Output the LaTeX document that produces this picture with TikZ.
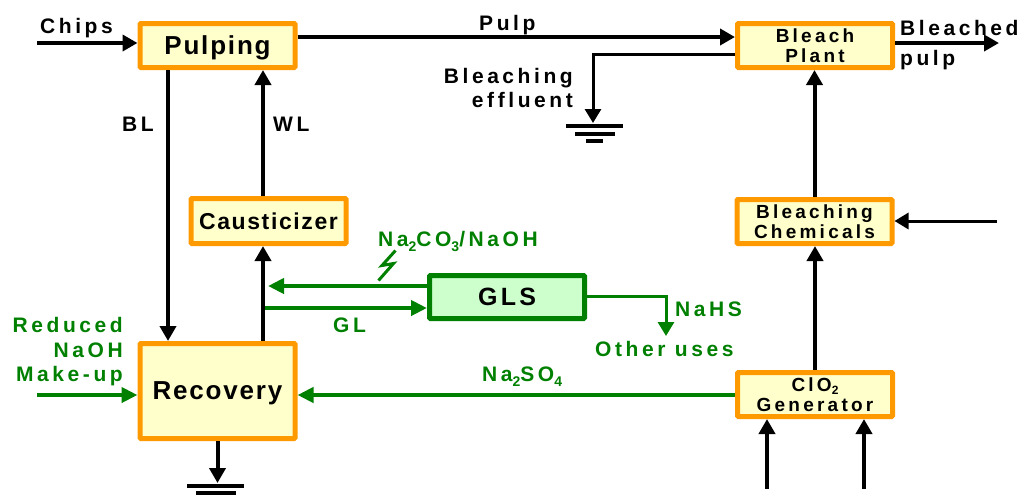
\documentclass[tikz,border=0pt]{standalone}
\usepackage{fontspec}
\setmainfont{Liberation Sans}
\newfontfamily\labfont{Liberation Sans}[LetterSpace=17]
\newfontfamily\bigfont{Liberation Sans}[LetterSpace=7]
\newfontfamily\glsfont{Liberation Sans}[LetterSpace=13]
\usetikzlibrary{arrows.meta}
\definecolor{orng}{HTML}{FF9900}
\definecolor{pale}{HTML}{FFFFCC}
\definecolor{grn}{HTML}{008000}
\definecolor{palegrn}{HTML}{CCFFCC}
\newcommand\lsub[1]{\raisebox{-5pt}{\fontsize{14}{14}\selectfont #1}}
\newcommand\csub[1]{\raisebox{-3pt}{\fontsize{12}{12}\selectfont #1}}
\begin{document}
\begin{tikzpicture}[x=1pt,y=-1pt,
  box/.style={draw=orng, fill=pale, line width=5pt, inner sep=0pt,
    minimum width=155pt, minimum height=44pt, rounded corners=1pt, align=center,
    font=\labfont\bfseries\fontsize{19}{20}\selectfont},
  bigbox/.style={box, text depth=0pt, font=\bigfont\bfseries\fontsize{26}{28}\selectfont},
  blk/.style={line width=4pt, -{Triangle[length=15pt,width=16pt]}},
  thinblk/.style={line width=3pt, -{Triangle[length=14pt,width=16pt]}},
  garr/.style={draw=grn, line width=4pt, -{Triangle[length=16pt,width=15pt]}},
  gthin/.style={draw=grn, line width=3pt, -{Triangle[length=14pt,width=16pt]}},
  lab/.style={inner sep=0pt, font=\labfont\bfseries\fontsize{21}{24}\selectfont},
  glab/.style={lab, text=grn},
  gnd/.style={line width=4pt}
]
\useasboundingbox (0,0) rectangle (1018,499);

% boxes
\node[bigbox] (pulping) at (217.5,45.5) {Pulping};
\node[box] (bleach) at (815,45.5) {Bleach\\Plant};
\node[box] (bchem) at (814.5,221.5) {Bleaching\\Chemicals};
\node[box] (clo2) at (815,394.5) {ClO\csub{2}\\Generator};
\node[bigbox, minimum height=45pt, font=\bigfont\bfseries\fontsize{23}{25}\selectfont] (caust) at (268.5,221) {Causticizer};
\node[bigbox, minimum height=95pt] (recovery) at (217.5,391) {Recovery};
\node[draw=grn, fill=palegrn, line width=5pt, inner sep=0pt, minimum width=155pt,
  minimum height=43pt, rounded corners=1pt, text depth=0pt,
  font=\glsfont\bfseries\fontsize{25}{27}\selectfont] (gls) at (507,297) {GLS};

% black connectors
\coordinate (chipsin) at (37,43);
\draw[blk] (chipsin) -- (chipsin -| pulping.west);
\coordinate (pulpy) at (0,37);
\draw[blk] (pulping.east |- pulpy) -- (bleach.west |- pulpy);
\coordinate (bpout) at (999,43);
\draw[blk] (bleach.east |- bpout) -- (bpout);
\coordinate (effy) at (0,54);
\coordinate (effgnd) at (593,123);
\draw[thinblk] (bleach.west |- effy) -| (effgnd);
\draw[blk] (bchem.north) -- (bleach.south -| bchem.north);
\draw[blk] (clo2.north) -- (bchem.south -| clo2.north);
\coordinate (bcin) at (997,221);
\draw[thinblk] (bcin) -- (bcin -| bchem.east);
\coordinate (cin1) at (767,489);
\coordinate (cin2) at (864,489);
\draw[blk] (cin1) -- (cin1 |- clo2.south);
\draw[blk] (cin2) -- (cin2 |- clo2.south);
\coordinate (recgnd) at (217.5,483);
\draw[blk] (recovery.south) -- (recgnd);
\coordinate (blx) at (168,0);
\draw[blk] (pulping.south -| blx) -- (recovery.north -| blx);
\coordinate (wlx) at (263,0);
\draw[blk] (recovery.north -| wlx) -- (caust.south -| wlx);
\draw[blk] (caust.north -| wlx) -- (pulping.south -| wlx);

% green connectors
\coordinate (nasy) at (0,395);
\draw[garr] (clo2.west |- nasy) -- (recovery.east |- nasy);
\coordinate (mkin) at (37,395);
\draw[garr] (mkin) -- (mkin -| recovery.west);
\coordinate (nacoy) at (268,286);
\draw[garr] (gls.west |- nacoy) -- (nacoy);
\coordinate (glstart) at (265,308);
\draw[garr] (glstart) -- (glstart -| gls.west);
\coordinate (nahsy) at (0,296);
\coordinate (nahs) at (666,336);
\draw[gthin] (gls.east |- nahsy) -| (nahs);
\draw[grn, line width=3pt] (395.5,250.5) -- (382,265.5) -- (393.5,263.5) -- (378.5,280.5);

% ground symbols
\draw[gnd] (566,126) -- (623,126);
\draw[gnd] (575,134) -- (615,134);
\draw[gnd] (586,141) -- (603,141);
\draw[gnd] (187,486) -- (244,486);
\draw[gnd] (196,493) -- (236,493);

% labels
\node[lab, anchor=base west] (chips) at (40,33.5) {Chips};
\node[lab, anchor=base west] (pulp) at (479,30) {Pulp};
\node[lab, anchor=base west] (bl) at (122,131.5) {BL};
\node[lab, anchor=base west] (wl) at (273,131.5) {WL};
\node[lab, anchor=north east, align=right] (effl) at (573,68.2) {Bleaching\\effluent};
\node[lab, anchor=north west, align=left, font=\labfont\bfseries\fontsize{21}{30}\selectfont] (bleached) at (900,19.7) {Bleached\\pulp};
\node[glab, anchor=north east, align=right, font=\labfont\bfseries\fontsize{21}{24.5}\selectfont] (makeup) at (123,317.2) {Reduced\\NaOH\\Make-up};
\node[glab, anchor=base west] (naco) at (378,246.5) {Na\lsub{2}CO\lsub{3}/NaOH};
\node[glab, anchor=base west] (gl) at (333,332.5) {GL};
\node[glab, anchor=base west] (nahslab) at (675,316.5) {NaHS};
\node[glab, anchor=base west] (other) at (595,356) {Other uses};
\node[glab, anchor=base west] (naso) at (482,381.7) {Na\lsub{2}SO\lsub{4}};
\end{tikzpicture}
\end{document}
